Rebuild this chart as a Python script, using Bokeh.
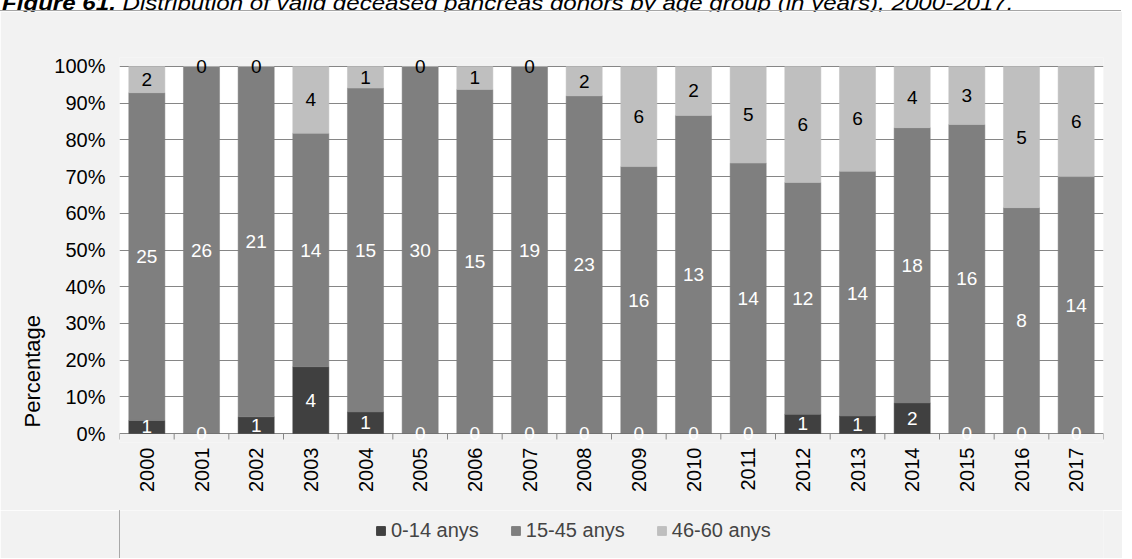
import math
from bokeh.plotting import figure
from bokeh.models import (ColumnDataSource, Range1d, FixedTicker, PrintfTickFormatter,
                          Legend, LegendItem, Div, Title)
from bokeh.layouts import column
from bokeh.core.properties import value
from bokeh.embed import file_html
from bokeh.resources import INLINE

# ---- data ----
years = ["2000", "2001", "2002", "2003", "2004", "2005", "2006", "2007", "2008",
         "2009", "2010", "2011", "2012", "2013", "2014", "2015", "2016", "2017"]
age_0_14 = [1, 0, 1, 4, 1, 0, 0, 0, 0, 0, 0, 0, 1, 1, 2, 0, 0, 0]
age_15_45 = [25, 26, 21, 14, 15, 30, 15, 19, 23, 16, 13, 14, 12, 14, 18, 16, 8, 14]
age_46_60 = [2, 0, 0, 4, 1, 0, 1, 0, 2, 6, 2, 5, 6, 6, 4, 3, 5, 6]
series_names = ["0-14 anys", "15-45 anys", "46-60 anys"]
y_ticks = [0, 10, 20, 30, 40, 50, 60, 70, 80, 90, 100]
y_title = "Percentage"
title_bold = "Figure 61."
title_rest = " Distribution of valid deceased pancreas donors by age group (in years), 2000-2017."

colors = ["#404040", "#7f7f7f", "#bfbfbf"]
label_colors = ["white", "white", "black"]
FONT = "Liberation Sans"
BG = "#f2f2f2"
PAD = 2.45  # room above 100% / below 0% for the data labels

series = [age_0_14, age_15_45, age_46_60]
n = len(years)
totals = [a + b + c for a, b, c in zip(*series)]
xs = [i + 0.5 for i in range(n)]
pcts = [[100.0 * v / t for v, t in zip(s, totals)] for s in series]

src = ColumnDataSource(dict(x=xs, p0=pcts[0], p1=pcts[1], p2=pcts[2]))

p = figure(frame_width=984, frame_height=385,
           min_border_left=119, min_border_right=19, min_border_top=46, min_border_bottom=68,
           x_range=Range1d(0, n), y_range=Range1d(-PAD, 100 + PAD),
           output_backend="svg", toolbar_location=None,
           background_fill_color=BG, border_fill_color=BG,
           outline_line_color=None, margin=0,
           styles={"box-shadow": "-1px -1px 0 #a6a6a6"})

# white plot area 0..100 %
p.quad(left=[0], right=[n], bottom=[0], top=[100], fill_color="white", line_color=None,
       level="image")

rends = p.vbar_stack(["p0", "p1", "p2"], x="x", width=0.66, source=src,
                     fill_color=colors, line_color=colors, line_width=0.5)

# category boundary tick marks under the 0% line
bounds = list(range(n + 1))
p.segment(x0=bounds, y0=[0] * len(bounds), x1=bounds, y1=[-1.63] * len(bounds),
          line_color="#868686", line_width=1)

# data labels
lx, ly, lt, lc = [], [], [], []
for k, s in enumerate(series):
    for i, v in enumerate(s):
        bottom = sum(pcts[j][i] for j in range(k))
        lx.append(xs[i])
        ly.append(bottom + pcts[k][i] / 2.0)
        lt.append(str(v))
        lc.append(label_colors[k])
lab_src = ColumnDataSource(dict(x=lx, y=ly, t=lt, c=lc))
p.text(x="x", y="y", text="t", text_color="c", source=lab_src,
       text_align="center", text_baseline="middle",
       text_font=value(FONT), text_font_size="19px")

# axes
p.xaxis.ticker = FixedTicker(ticks=xs)
p.xaxis.major_label_overrides = {x: y for x, y in zip(xs, years)}
p.xaxis.major_label_orientation = math.pi / 2
p.xaxis.major_label_standoff = 5
p.xaxis.major_tick_out = 0
p.xaxis.major_tick_in = 0
p.xaxis.major_label_text_font = FONT
p.xaxis.major_label_text_font_size = "20px"
p.xaxis.major_label_text_color = "black"
p.xaxis.axis_line_color = None
p.xaxis.major_tick_line_color = None
p.xaxis.minor_tick_line_color = None

p.yaxis.ticker = FixedTicker(ticks=y_ticks)
p.yaxis.formatter = PrintfTickFormatter(format="%d%%")
p.yaxis.axis_line_color = None
p.yaxis.major_tick_line_color = None
p.yaxis.minor_tick_line_color = None
p.yaxis.major_tick_out = 0
p.yaxis.major_tick_in = 0
p.yaxis.major_label_standoff = 14
p.yaxis.major_label_text_font = FONT
p.yaxis.major_label_text_font_size = "20px"
p.yaxis.major_label_text_color = "black"

p.add_layout(Title(text=y_title, align="left", offset=15, standoff=14,
                   text_font=FONT, text_font_size="22px", text_font_style="normal",
                   text_color="black"), "left")

p.xgrid.visible = False
p.ygrid.ticker = FixedTicker(ticks=y_ticks)
p.ygrid.grid_line_color = "#868686"
p.ygrid.grid_line_width = 1

# ---- legend strip (own small figure under the chart, same horizontal geometry) ----
lf = figure(frame_width=984, frame_height=48,
            min_border_left=119, min_border_right=19, min_border_top=0, min_border_bottom=0,
            x_range=Range1d(0, 1), y_range=Range1d(0, 1),
            x_axis_location=None, y_axis_location=None,
            output_backend="svg", toolbar_location=None,
            background_fill_color=BG, border_fill_color=BG, outline_line_color=None,
            margin=0)
lf.grid.visible = False
# legend keys: one off-view bar per series so the key swatches get drawn
key_rends = [lf.vbar(x=[-5], top=[1], bottom=[0], width=0.1, fill_color=c, line_color=c)
             for c in colors]
legend = Legend(items=[LegendItem(label=s, renderers=[r]) for s, r in zip(series_names, key_rends)],
                orientation="horizontal", location=(256, 16),
                glyph_width=11, glyph_height=11, label_standoff=5, spacing=31,
                padding=0, margin=0, border_line_color=None, background_fill_alpha=0,
                label_text_font=FONT, label_text_font_size="20px", label_height=20)
lf.add_layout(legend, "center")

title_html = ('<div style="position:absolute;left:2px;top:-7px;white-space:nowrap;'
              'font-family:\'Liberation Sans\';font-size:20px;line-height:20px;'
              'font-style:italic;color:#000;transform:scaleX(1.205);transform-origin:0 0">'
              '<b>' + title_bold + '</b>' + title_rest + '</div>')
div = Div(text=title_html, width=1122, height=11, margin=0, styles={"overflow": "visible"})

layout = column(div, p, lf, spacing=0, margin=0)
open("out.html", "w").write(file_html(layout, INLINE))
